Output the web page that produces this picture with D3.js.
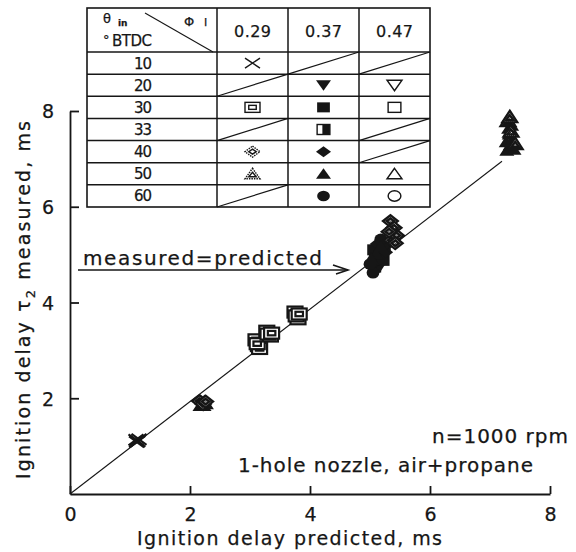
<!DOCTYPE html>
<html>
<head>
<meta charset="utf-8">
<script src="https://cdn.jsdelivr.net/npm/d3@7"></script>
<style>
  body { margin: 0; background: #fff; }
  svg { display: block; }
  text { font-family: "DejaVu Sans", Verdana, sans-serif; fill: #161616; stroke: #161616; stroke-width: 0.25px; }
</style>
</head>
<body>
<svg id="chart" width="576" height="552"></svg>
<script>
// ---- axis ticks ----
const xTicks = [0, 2, 4, 6, 8];
const yTicks = [2, 4, 6, 8];

// ---- legend grid: injection timing (rows) x equivalence ratio (columns) ----
const phiLevels = ["0.29", "0.37", "0.47"];
const thetaLevels = ["10", "20", "30", "33", "40", "50", "60"];
// marker used for each [theta][phi]; null = combination not tested
const legendMarkers = [
  ["cross", null, null],
  [null, "triDownFill", "triDownOpen"],
  ["squareDouble", "squareFill", "squareOpen"],
  [null, "squareHalf", null],
  ["diamondHatch", "diamondFill", null],
  ["triHatch", "triFill", "triOpen"],
  [null, "circleFill", "circleOpen"]
];

// ---- measurements: [predicted, measured] in ms ----
const cross029_10 = [[1.10, 1.13], [1.13, 1.10], [1.15, 1.14], [1.11, 1.09]];
const squareDouble029_30 = [[3.10, 3.22], [3.14, 3.10], [3.16, 3.04], [3.12, 3.14], [3.28, 3.40],
  [3.34, 3.30], [3.30, 3.34], [3.36, 3.36], [3.75, 3.80], [3.80, 3.66], [3.77, 3.72], [3.82, 3.76]];
const diamondHatch029_40 = [[2.16, 1.94], [2.22, 1.88], [2.26, 1.93], [5.34, 5.70], [5.40, 5.56],
  [5.44, 5.40], [5.36, 5.30], [5.42, 5.24], [5.32, 5.48]];
const triHatch029_50 = [[2.20, 1.87], [2.24, 1.91], [7.30, 7.80], [7.33, 7.88], [7.35, 7.58], [7.42, 7.32]];
const triDownFill037_20 = [[5.04, 4.70], [5.10, 4.88], [5.16, 4.74]];
const squareFill037_30 = [[5.08, 4.74], [5.16, 5.00], [5.24, 5.15], [5.22, 4.88], [5.06, 5.10]];
const squareHalf037_33 = [[5.12, 4.95], [5.14, 5.06]];
const diamondFill037_40 = [[5.06, 4.82], [5.20, 5.10], [5.26, 5.05], [5.12, 5.22]];
const triFill037_50 = [[5.10, 5.02], [5.18, 5.18], [5.02, 4.92], [7.28, 7.18], [7.40, 7.20], [7.34, 7.30],
  [7.27, 7.36], [7.38, 7.42], [7.32, 7.52], [7.31, 7.64], [7.36, 7.70]];
const circleFill037_60 = [[5.05, 4.62], [5.14, 4.90], [5.22, 5.20], [5.00, 4.80], [5.18, 5.32]];

// reference line measured = predicted
const refLine = [[0, 0], [7.2, 6.95]];

// drawing order: later series sit on top
const series = [
  { marker: "squareDouble", points: squareDouble029_30 },
  { marker: "cross", points: cross029_10 },
  { marker: "squareHalf", points: squareHalf037_33 },
  { marker: "triDownFill", points: triDownFill037_20 },
  { marker: "squareFill", points: squareFill037_30 },
  { marker: "diamondFill", points: diamondFill037_40 },
  { marker: "circleFill", points: circleFill037_60 },
  { marker: "triFill", points: triFill037_50 },
  { marker: "triHatch", points: triHatch029_50 },
  { marker: "diamondHatch", points: diamondHatch029_40 }
];

const ink = "#161616";
const svg = d3.select("#chart");

// shading pattern for the hatched glyphs
const defs = svg.append("defs");
const checker = defs.append("pattern").attr("id", "checker").attr("patternUnits", "userSpaceOnUse")
  .attr("width", 2).attr("height", 2);
checker.append("rect").attr("width", 2).attr("height", 2).attr("fill", "#fff");
checker.append("rect").attr("width", 1).attr("height", 1).attr("fill", ink);
checker.append("rect").attr("x", 1).attr("y", 1).attr("width", 1).attr("height", 1).attr("fill", ink);

const x = d3.scaleLinear().domain([0, 8]).range([70, 550]);
const y = d3.scaleLinear().domain([0, 8]).range([494, 111]);

// ---- marker glyphs ----
function drawMarker(g, type, cx, cy, w, h, sw, inPlot) {
  const a = w / 2, b = h / 2;
  const m = g.append("g").attr("transform", `translate(${cx},${cy})`);
  const st = sel => sel.attr("stroke", ink).attr("stroke-width", sw);
  const hatchFill = inPlot ? "url(#checker)" : "#fff";
  switch (type) {
    case "cross":
      st(m.append("path").attr("fill", "none")
        .attr("d", `M${-a},${-b}L${a},${b}M${-a},${b}L${a},${-b}`));
      break;
    case "squareDouble":
      st(m.append("rect").attr("x", -a).attr("y", -b).attr("width", w).attr("height", h).attr("fill", "#fff"));
      st(m.append("rect").attr("x", -a * 0.5).attr("y", -b * 0.4).attr("width", a).attr("height", b * 0.8).attr("fill", "#fff"));
      break;
    case "squareFill":
      m.append("rect").attr("x", -a * 0.85).attr("y", -b).attr("width", w * 0.85).attr("height", h).attr("fill", ink);
      break;
    case "squareOpen":
      st(m.append("rect").attr("x", -a * 0.85).attr("y", -b).attr("width", w * 0.85).attr("height", h).attr("fill", "#fff"));
      break;
    case "squareHalf":
      st(m.append("rect").attr("x", -a * 0.85).attr("y", -b).attr("width", w * 0.85).attr("height", h).attr("fill", "#fff"));
      m.append("rect").attr("x", -a * 0.15).attr("y", -b).attr("width", a).attr("height", h).attr("fill", ink);
      break;
    case "diamondFill":
      m.append("path").attr("fill", ink).attr("d", `M0,${-b * 1.1}L${a},0L0,${b * 1.1}L${-a},0Z`);
      break;
    case "diamondHatch":
      st(m.append("path").attr("fill", hatchFill).attr("stroke-dasharray", inPlot ? null : "1.5 1")
        .attr("d", `M0,${-b * 1.1}L${a},0L0,${b * 1.1}L${-a},0Z`));
      st(m.append("path").attr("fill", "none")
        .attr("d", `M0,${-b * 0.5}L${a * 0.5},0L0,${b * 0.5}L${-a * 0.5},0Z`));
      break;
    case "triFill":
      m.append("path").attr("fill", ink).attr("d", `M0,${-b * 1.1}L${a},${b}L${-a},${b}Z`);
      break;
    case "triOpen":
      st(m.append("path").attr("fill", "#fff").attr("d", `M0,${-b * 1.1}L${a},${b}L${-a},${b}Z`));
      break;
    case "triHatch":
      st(m.append("path").attr("fill", hatchFill).attr("stroke-dasharray", inPlot ? null : "1.5 1")
        .attr("d", `M0,${-b * 1.1}L${a},${b}L${-a},${b}Z`));
      st(m.append("path").attr("fill", "none")
        .attr("d", `M0,${-b * 0.3}L${a * 0.5},${b * 0.6}L${-a * 0.5},${b * 0.6}Z`));
      break;
    case "triDownFill":
      m.append("path").attr("fill", ink).attr("d", `M${-a},${-b}L${a},${-b}L0,${b * 1.1}Z`);
      break;
    case "triDownOpen":
      st(m.append("path").attr("fill", "#fff").attr("d", `M${-a},${-b}L${a},${-b}L0,${b * 1.1}Z`));
      break;
    case "circleFill":
      m.append("ellipse").attr("rx", a * 0.85).attr("ry", b * 1.05).attr("fill", ink);
      break;
    case "circleOpen":
      st(m.append("ellipse").attr("rx", a * 0.85).attr("ry", b * 1.05).attr("fill", "#fff"));
      break;
  }
}

// ---- axes ----
const xAxis = d3.axisBottom(x).tickValues(xTicks).tickSizeInner(-8).tickSizeOuter(0).tickPadding(14);
const gx = svg.append("g").attr("transform", `translate(0,${y(0)})`).call(xAxis);
const yAxis = d3.axisLeft(y).tickValues(yTicks).tickSizeInner(-9).tickSizeOuter(0).tickPadding(16);
const gy = svg.append("g").attr("transform", `translate(${x(0)},0)`).call(yAxis);
[gx, gy].forEach(g => {
  g.select(".domain").attr("stroke", ink).attr("stroke-width", 1.8);
  g.selectAll(".tick line").attr("stroke", ink).attr("stroke-width", 1.8);
  g.selectAll(".tick text").attr("font-size", 19).attr("fill", ink)
    .style("font-family", '"DejaVu Sans", Verdana, sans-serif');
});
gy.selectAll(".tick text").attr("dy", "0.36em");

// axis titles
svg.append("text").attr("x", 137).attr("y", 545).attr("font-size", 19)
  .attr("textLength", 305).attr("lengthAdjust", "spacing")
  .text("Ignition delay predicted, ms");
const yTitle = svg.append("text")
  .attr("transform", "translate(30,300) rotate(-90)")
  .attr("text-anchor", "middle").attr("font-size", 19)
  .attr("textLength", 358).attr("lengthAdjust", "spacing");
yTitle.append("tspan").text("Ignition delay \u03c4");
yTitle.append("tspan").attr("font-size", 13).attr("dy", 5).text("2");
yTitle.append("tspan").attr("dy", -5).text(" measured, ms");

// ---- reference line ----
svg.append("path")
  .attr("d", d3.line().x(d => x(d[0])).y(d => y(d[1]))(refLine))
  .attr("fill", "none").attr("stroke", ink).attr("stroke-width", 1.1);

// annotation with arrow
svg.append("text").attr("x", 83).attr("y", 265).attr("font-size", 20)
  .attr("textLength", 239).attr("lengthAdjust", "spacing").text("measured=predicted");
svg.append("path").attr("d", "M78,270H348").attr("stroke", ink).attr("stroke-width", 1.6);
svg.append("path").attr("d", "M333,265L348,270L336,274").attr("fill", "none")
  .attr("stroke", ink).attr("stroke-width", 1.6);

// ---- data points ----
const gPts = svg.append("g");
series.forEach(s => {
  s.points.forEach(p => drawMarker(gPts, s.marker, x(p[0]), y(p[1]), 15, 11, 2.2, true));
});

// conditions text
svg.append("text").attr("x", 568).attr("y", 443).attr("text-anchor", "end").attr("font-size", 20)
  .attr("textLength", 136).attr("lengthAdjust", "spacing").text("n=1000 rpm");
svg.append("text").attr("x", 533).attr("y", 472).attr("text-anchor", "end").attr("font-size", 20)
  .attr("textLength", 295).attr("lengthAdjust", "spacing").text("1-hole nozzle, air+propane");

// ---- legend table ----
const tLeft = 87, tRight = 430, tTop = 8, hBottom = 52, tBottom = 207;
const col = d3.scaleBand().domain(phiLevels).range([217, tRight]);
const row = d3.scaleBand().domain(thetaLevels).range([hBottom, tBottom]);
const gt = svg.append("g");
gt.append("rect").attr("x", tLeft).attr("y", tTop).attr("width", tRight - tLeft)
  .attr("height", tBottom - tTop).attr("fill", "#fff").attr("stroke", ink).attr("stroke-width", 1.6);
// horizontal rules
[hBottom].concat(thetaLevels.slice(1).map(t => row(t))).forEach(yy => {
  gt.append("line").attr("x1", tLeft).attr("x2", tRight).attr("y1", yy).attr("y2", yy)
    .attr("stroke", ink).attr("stroke-width", 1.5);
});
// vertical rules
phiLevels.forEach(p => {
  gt.append("line").attr("x1", col(p)).attr("x2", col(p)).attr("y1", tTop).attr("y2", tBottom)
    .attr("stroke", ink).attr("stroke-width", 1.5);
});
// header cell
gt.append("line").attr("x1", 145).attr("y1", 13).attr("x2", 213).attr("y2", 52)
  .attr("stroke", ink).attr("stroke-width", 1.1);
gt.append("text").attr("x", 103).attr("y", 23).attr("font-size", 13).text("\u03b8");
gt.append("text").attr("x", 118).attr("y", 26).attr("font-size", 9).attr("font-weight", "bold").text("in");
gt.append("text").attr("x", 103).attr("y", 44).attr("font-size", 13).text("\u00b0");
gt.append("text").attr("x", 112).attr("y", 46).attr("font-size", 15)
  .attr("textLength", 40).attr("lengthAdjust", "spacing").text("BTDC");
gt.append("text").attr("x", 184).attr("y", 26).attr("font-size", 13).text("\u03a6");
gt.append("text").attr("x", 204).attr("y", 26).attr("font-size", 11).text("I");
phiLevels.forEach(p => {
  gt.append("text").attr("x", col(p) + col.bandwidth() / 2).attr("y", 37).attr("text-anchor", "middle")
    .attr("font-size", 16).attr("textLength", 37).attr("lengthAdjust", "spacing").text(p);
});
thetaLevels.forEach((t, i) => {
  const cy = row(t) + row.bandwidth() / 2;
  gt.append("text").attr("x", 143).attr("y", cy + 5.5).attr("text-anchor", "middle")
    .attr("font-size", 15).attr("textLength", 18).attr("lengthAdjust", "spacing").text(t);
  phiLevels.forEach((p, j) => {
    const mk = legendMarkers[i][j];
    const cx = col(p) + col.bandwidth() / 2;
    if (mk) {
      drawMarker(gt, mk, cx, cy, 15, 10, 1.4, false);
    } else {
      gt.append("line").attr("x1", col(p)).attr("y1", row(t) + row.bandwidth())
        .attr("x2", col(p) + col.bandwidth()).attr("y2", row(t))
        .attr("stroke", ink).attr("stroke-width", 1.2);
    }
  });
});
</script>
</body>
</html>
